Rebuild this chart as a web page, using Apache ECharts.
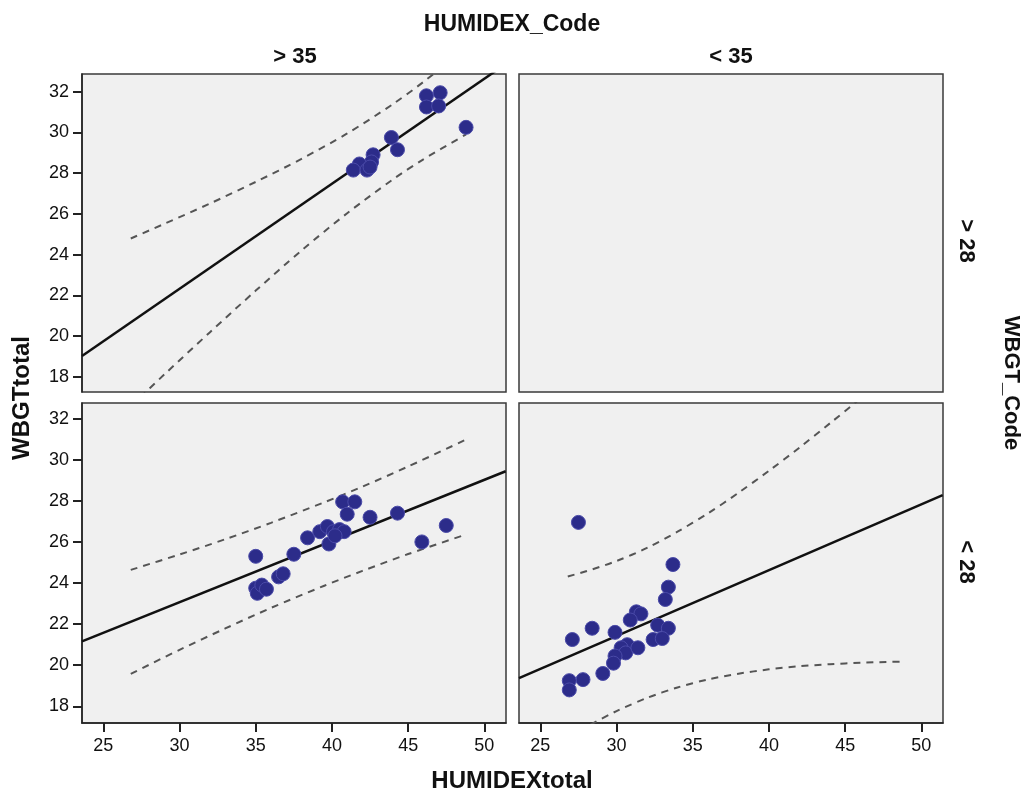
<!DOCTYPE html>
<html>
<head>
<meta charset="utf-8">
<script src="https://cdn.jsdelivr.net/npm/echarts@6/dist/echarts.min.js"></script>
<style>
html,body{margin:0;padding:0;background:#fff;}
#c{width:1026px;height:793px;}
</style>
</head>
<body>
<div id="c"></div>
<script>
// ---- tick labels ----
const xTicks = [25, 30, 35, 40, 45, 50];
const yTicks = [18, 20, 22, 24, 26, 28, 30, 32];

// ---- facet labels ----
const colTitle = 'HUMIDEX_Code';
const colLabels = ['> 35', '< 35'];
const rowTitle = 'WBGT_Code';
const rowLabels = ['> 28', '< 28'];
const xTitle = 'HUMIDEXtotal';
const yTitle = 'WBGTtotal';

// ---- top-left panel (HUMIDEX > 35, WBGT > 28) ----
const tlX = [46.2, 47.1, 46.2, 47.0, 48.8, 43.9, 44.3, 42.7, 42.6, 41.8, 41.4, 42.3, 42.5];
const tlY = [31.8, 31.95, 31.25, 31.3, 30.25, 29.75, 29.15, 28.9, 28.55, 28.45, 28.15, 28.15, 28.3];
const tlFitX = [23.6, 51.4];
const tlFitY = [19.02, 33.36];
const tlBandX = [26.8, 29, 32, 35, 38, 41, 44, 46, 48.8];
const tlUpper = [24.79, 25.51, 26.51, 27.57, 28.70, 29.95, 31.39, 32.48, 34.14];
const tlLower = [16.55, 18.11, 20.19, 22.23, 24.20, 26.03, 27.69, 28.68, 29.90];

// ---- bottom-left panel (HUMIDEX > 35, WBGT < 28) ----
const blX = [35.0, 35.0, 35.1, 35.4, 35.7, 36.5, 36.8, 37.5, 38.4, 39.2, 39.7, 40.1, 39.8, 40.5, 40.8, 40.7, 41.5, 41.0, 42.5, 44.3, 45.9, 47.5, 40.2];
const blY = [25.3, 23.75, 23.5, 23.9, 23.7, 24.3, 24.45, 25.4, 26.2, 26.5, 26.75, 26.5, 25.9, 26.6, 26.5, 27.95, 27.95, 27.35, 27.2, 27.4, 26.0, 26.8, 26.3];
const blFitX = [23.6, 51.4];
const blFitY = [21.16, 29.44];
const blBandX = [26.8, 30, 33, 36, 39.5, 42, 45, 48.8];
const blUpper = [24.64, 25.39, 26.13, 26.93, 27.93, 28.69, 29.67, 30.98];
const blLower = [19.58, 20.75, 21.79, 22.79, 23.87, 24.59, 25.41, 26.36];

// ---- bottom-right panel (HUMIDEX < 35, WBGT < 28) ----
const brX = [27.5, 33.7, 33.4, 33.2, 31.3, 31.6, 30.9, 28.4, 27.1, 29.9, 32.7, 33.4, 32.4, 33.0, 30.7, 30.3, 30.6, 31.4, 29.9, 29.8, 29.1, 27.8, 26.9, 26.9];
const brY = [26.95, 24.9, 23.8, 23.2, 22.6, 22.5, 22.2, 21.8, 21.25, 21.6, 21.95, 21.8, 21.25, 21.3, 21.0, 20.85, 20.6, 20.85, 20.45, 20.1, 19.6, 19.3, 19.25, 18.8];
const brFitX = [23.6, 51.4];
const brFitY = [19.37, 28.28];
const brBandX = [26.8, 28, 30, 32, 34, 36, 38, 40, 42, 44, 46, 48.8];
const brUpper = [24.32, 24.57, 25.07, 25.71, 26.50, 27.39, 28.39, 29.46, 30.59, 31.77, 32.98, 34.72];
const brLower = [16.48, 16.99, 17.77, 18.41, 18.92, 19.31, 19.59, 19.80, 19.95, 20.05, 20.12, 20.18];

const FONT = "'Liberation Sans', Arial, sans-serif";
const zip = (a, b) => a.map((v, i) => [v, b[i]]);

const grids = [
  {left: 82, top: 74, width: 424, height: 318},
  {left: 519, top: 74, width: 424, height: 318},
  {left: 82, top: 403, width: 424, height: 320},
  {left: 519, top: 403, width: 424, height: 320}
].map(g => Object.assign(g, {show: true, backgroundColor: '#f0f0f0', borderColor: '#3a3a3a', borderWidth: 1.5, containLabel: false}));

function xAx(i, showTicks) {
  return {
    type: 'value', gridIndex: i, min: 23.6, max: 51.42,
    axisLine: {show: showTicks, onZero: false, lineStyle: {color: '#222', width: 1.5}},
    axisTick: {show: showTicks, length: 9, lineStyle: {color: '#222', width: 2}, customValues: xTicks},
    axisLabel: {show: showTicks, margin: 14, fontSize: 18, color: '#111', fontFamily: FONT, customValues: xTicks},
    splitLine: {show: false}
  };
}
function yAx(i, showTicks, mn, mx) {
  return {
    type: 'value', gridIndex: i, min: mn, max: mx,
    axisLine: {show: showTicks, onZero: false, lineStyle: {color: '#222', width: 1.5}},
    axisTick: {show: showTicks, length: 9, lineStyle: {color: '#222', width: 2}, customValues: yTicks},
    axisLabel: {show: showTicks, margin: 13, fontSize: 18, color: '#111', fontFamily: FONT, customValues: yTicks},
    splitLine: {show: false}
  };
}

function panelSeries(idx, px, py, fx, fy, bx, up, lo) {
  return [
    {type: 'line', xAxisIndex: idx, yAxisIndex: idx, data: zip(bx, up), smooth: 0.3, symbol: 'none', clip: true,
     lineStyle: {color: '#555', width: 2, type: [7, 6]}, z: 3},
    {type: 'line', xAxisIndex: idx, yAxisIndex: idx, data: zip(bx, lo), smooth: 0.3, symbol: 'none', clip: true,
     lineStyle: {color: '#555', width: 2, type: [7, 6]}, z: 3},
    {type: 'line', xAxisIndex: idx, yAxisIndex: idx, data: zip(fx, fy), symbol: 'none', clip: true,
     lineStyle: {color: '#111', width: 2.5}, z: 4},
    {type: 'scatter', xAxisIndex: idx, yAxisIndex: idx, data: zip(px, py), symbolSize: 14, clip: true,
     itemStyle: {color: '#2c2c8a', borderColor: '#4a4aa8', borderWidth: 1, opacity: 1}, z: 5}
  ];
}

function txt(x, y, text, size, rot) {
  return {type: 'text', x: x, y: y, rotation: rot || 0,
    style: {text: text, font: 'bold ' + size + 'px ' + FONT, fill: '#111', align: 'center', verticalAlign: 'middle'}};
}

const option = {
  backgroundColor: '#ffffff',
  animation: false,
  grid: grids,
  xAxis: [xAx(0, false), xAx(1, false), xAx(2, true), xAx(3, true)],
  yAxis: [yAx(0, true, 17.25, 32.87), yAx(1, false, 17.25, 32.87), yAx(2, true, 17.19, 32.76), yAx(3, false, 17.19, 32.76)],
  series: [].concat(
    panelSeries(0, tlX, tlY, tlFitX, tlFitY, tlBandX, tlUpper, tlLower),
    panelSeries(2, blX, blY, blFitX, blFitY, blBandX, blUpper, blLower),
    panelSeries(3, brX, brY, brFitX, brFitY, brBandX, brUpper, brLower)
  ),
  graphic: [
    txt(512, 25, colTitle, 23),
    txt(295, 57, colLabels[0], 22),
    txt(731, 57, colLabels[1], 22),
    txt(966, 241, rowLabels[0], 22, -Math.PI / 2),
    txt(966, 562, rowLabels[1], 22, -Math.PI / 2),
    txt(1011, 383, rowTitle, 22, -Math.PI / 2),
    txt(22, 398, yTitle, 24, Math.PI / 2),
    txt(512, 781, xTitle, 24)
  ]
};

const chart = echarts.init(document.getElementById('c'), null, {renderer: 'canvas'});
chart.setOption(option);
</script>
</body>
</html>
